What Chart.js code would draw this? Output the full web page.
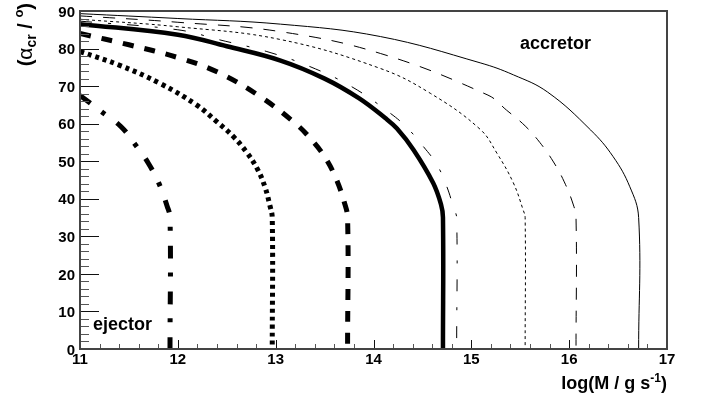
<!DOCTYPE html>
<html>
<head>
<meta charset="utf-8">
<title>Critical angle vs accretion rate</title>
<script src="https://cdn.jsdelivr.net/npm/chart.js@4.4.1/dist/chart.umd.min.js"></script>
<style>
  body { margin: 0; background: #fff; }
  #wrap { width: 702px; height: 404px; }
</style>
</head>
<body>
<div id="wrap"><canvas id="chart" width="702" height="404"></canvas></div>
<script>
// axis tick labels
const xTicks = [11, 12, 13, 14, 15, 16, 17];
const yTicks = [0, 10, 20, 30, 40, 50, 60, 70, 80, 90];

// curves: x = log(Mdot / g s^-1), y = alpha_cr in degrees
const thinSolidX = [11.0, 12.0, 13.05, 14.07, 15.09, 15.43, 15.78, 16.22, 16.45, 16.62, 16.71, 16.71];
const thinSolidY = [89.3, 88.0, 86.5, 83.2, 76.2, 73.0, 68.4, 58.3, 51.2, 43.2, 35.0, 0];

const thinDashX = [11.0, 12.0, 13.05, 14.07, 15.17, 15.36, 15.55, 15.70, 15.84, 15.95, 16.04, 16.07, 16.07];
const thinDashY = [88.7, 87.0, 84.5, 78.7, 67.6, 63.6, 59.4, 55.0, 49.8, 44.5, 38.6, 35.0, 0];

const thinDotX = [11.0, 12.0, 13.05, 14.07, 14.58, 15.09, 15.26, 15.43, 15.53, 15.55, 15.55];
const thinDotY = [87.8, 85.8, 82.4, 74.7, 68.1, 58.5, 52.2, 44.2, 37.0, 35.0, 0];

const thinDashDotX = [11.0, 12.0, 12.43, 12.91, 13.35, 13.78, 14.17, 14.34, 14.51, 14.65, 14.75, 14.82, 14.85, 14.85];
const thinDashDotY = [87.3, 85.0, 82.3, 79.2, 75.2, 69.8, 62.8, 59.0, 53.9, 49.0, 43.2, 37.5, 35.0, 0];

const thickSolidX = [11.0, 12.0, 12.5, 13.05, 13.5, 13.85, 14.12, 14.24, 14.41, 14.61, 14.69, 14.71, 14.71];
const thickSolidY = [86.5, 83.7, 80.6, 76.8, 72.0, 66.8, 61.5, 58.7, 53.0, 44.2, 38.5, 35.0, 0];

const thickDashX = [11.0, 11.5, 12.0, 12.4, 12.82, 13.2, 13.37, 13.51, 13.62, 13.70, 13.735, 13.735];
const thickDashY = [84.0, 81.0, 77.6, 73.8, 67.6, 60.1, 55.6, 50.8, 45.2, 39.2, 35.0, 0];

const thickDotX = [11.0, 11.4, 11.82, 12.19, 12.4, 12.57, 12.70, 12.81, 12.89, 12.94, 12.965, 12.965];
const thickDotY = [79.2, 75.6, 70.7, 65.0, 60.5, 56.5, 52.5, 48.1, 43.2, 38.3, 35.0, 0];

const thickDashDotX = [11.0, 11.22, 11.42, 11.56, 11.70, 11.81, 11.89, 11.92, 11.92];
const thickDashDotY = [67.5, 63.2, 59.2, 54.6, 49.4, 43.9, 38.1, 35.0, 0];

const FONT = '"Liberation Sans", Arial, Helvetica, sans-serif';

function toPoints(xs, ys) {
  return xs.map((x, i) => ({ x: x, y: ys[i] }));
}

function curve(xs, ys, width, dash) {
  return {
    data: toPoints(xs, ys),
    borderColor: '#000',
    borderWidth: width,
    borderDash: dash,
    borderCapStyle: 'butt',
    borderJoinStyle: 'round',
    fill: false,
    pointRadius: 0,
    tension: 0.4
  };
}

// draw a row of text pieces (for sub/superscripts), aligned left or right
function drawRuns(ctx, runs, x, y, align) {
  let total = 0;
  runs.forEach(r => {
    ctx.font = r.font;
    total += ctx.measureText(r.text).width;
  });
  let cx = align === 'right' ? x - total : x;
  ctx.textAlign = 'left';
  ctx.textBaseline = 'alphabetic';
  runs.forEach(r => {
    ctx.font = r.font;
    ctx.fillText(r.text, cx, y + (r.dy || 0));
    cx += ctx.measureText(r.text).width;
  });
}

// frame, inward ticks, labels and titles
const frameAndText = {
  id: 'frameAndText',
  afterDatasetsDraw(chart) {
    const ctx = chart.ctx;
    const area = chart.chartArea;
    const xs = chart.scales.x;
    const ys = chart.scales.y;
    ctx.save();

    // ticks on the y axis: major every 10, minor every 2
    ctx.lineWidth = 1;
    for (let v = 0; v <= 90; v += 2) {
      const py = Math.round(ys.getPixelForValue(v)) + 0.5;
      const major = v % 10 === 0;
      ctx.strokeStyle = major ? '#111' : '#555';
      ctx.beginPath();
      ctx.moveTo(area.left, py);
      ctx.lineTo(area.left + (major ? 19 : 9), py);
      ctx.stroke();
    }
    // ticks on the x axis: major every 1, minor every 0.2
    for (let i = 0; i <= 30; i++) {
      const v = 11 + i * 0.2;
      const px = Math.round(xs.getPixelForValue(v)) + 0.5;
      const major = i % 5 === 0;
      ctx.strokeStyle = major ? '#111' : '#555';
      ctx.beginPath();
      ctx.moveTo(px, area.bottom);
      ctx.lineTo(px, area.bottom - (major ? 9 : 5));
      ctx.stroke();
    }

    // frame
    ctx.strokeStyle = '#444';
    ctx.lineWidth = 2;
    ctx.strokeRect(area.left, area.top, area.right - area.left, area.bottom - area.top);

    // tick labels
    ctx.fillStyle = '#000';
    ctx.font = 'bold 15px ' + FONT;
    ctx.textAlign = 'right';
    ctx.textBaseline = 'middle';
    yTicks.forEach(v => {
      ctx.fillText(String(v), area.left - 5, ys.getPixelForValue(v) + 1.5);
    });
    ctx.textAlign = 'center';
    ctx.textBaseline = 'top';
    xTicks.forEach(v => {
      ctx.fillText(String(v), xs.getPixelForValue(v), area.bottom + 3);
    });

    // x axis title
    drawRuns(ctx, [
      { text: 'log(M / g s', font: 'bold 18px ' + FONT },
      { text: '-1', font: 'bold 12px ' + FONT, dy: -7 },
      { text: ')', font: 'bold 18px ' + FONT }
    ], area.right, 389, 'right');

    // y axis title, rotated
    ctx.save();
    ctx.translate(32, 3);
    ctx.rotate(-Math.PI / 2);
    drawRuns(ctx, [
      { text: '(', font: 'bold 20px ' + FONT },
      { text: 'α', font: '21px ' + FONT },
      { text: 'cr', font: 'bold 14px ' + FONT, dy: 4 },
      { text: ' / ', font: 'bold 20px ' + FONT },
      { text: 'o', font: 'bold 13px ' + FONT, dy: -9 },
      { text: ')', font: 'bold 20px ' + FONT }
    ], 0, 0, 'right');
    ctx.restore();

    // region labels
    ctx.font = 'bold 18px ' + FONT;
    ctx.textAlign = 'left';
    ctx.textBaseline = 'alphabetic';
    ctx.fillText('accretor', 520, 49);
    ctx.fillText('ejector', 93, 330);

    ctx.restore();
  }
};

const chart = new Chart(document.getElementById('chart').getContext('2d'), {
  type: 'line',
  data: {
    datasets: [
      curve(thinSolidX, thinSolidY, 1, []),
      curve(thinDashX, thinDashY, 1, [12, 11]),
      curve(thinDotX, thinDotY, 1, [3, 3]),
      curve(thinDashDotX, thinDashDotY, 1, [12, 16, 3, 16]),
      curve(thickSolidX, thickSolidY, 4.5, []),
      curve(thickDashX, thickDashY, 5, [11, 11]),
      curve(thickDotX, thickDotY, 5, [4, 4]),
      curve(thickDashDotX, thickDashDotY, 5, [13, 14, 4, 15])
    ]
  },
  options: {
    responsive: false,
    devicePixelRatio: 1,
    animation: false,
    layout: { padding: { left: 80, right: 35, top: 11, bottom: 55 } },
    plugins: {
      legend: { display: false },
      tooltip: { enabled: false }
    },
    scales: {
      x: { type: 'linear', min: 11, max: 17, display: false },
      y: { type: 'linear', min: 0, max: 90, display: false }
    }
  },
  plugins: [frameAndText]
});
</script>
</body>
</html>
